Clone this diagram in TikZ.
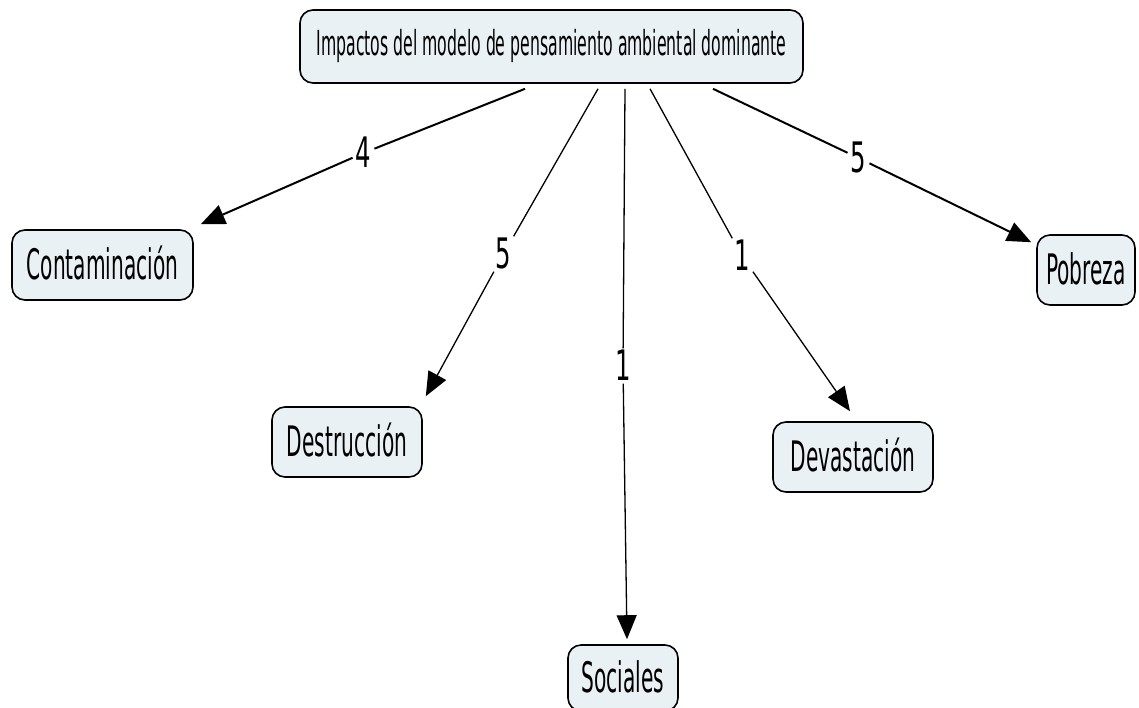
\documentclass[tikz,border=0pt]{standalone}
\usepackage{fontspec}
\usetikzlibrary{arrows.meta}
\newfontfamily\cmapfont[FakeStretch=0.48]{DejaVu Sans}
\newfontfamily\cmaptopfont[FakeStretch=0.455]{DejaVu Sans}
\newfontfamily\cmaplabelfont[FakeStretch=0.58]{DejaVu Sans}
\definecolor{boxfill}{HTML}{EAF1F5}
\begin{document}
\begin{tikzpicture}[x=1pt,y=-1pt,
  concept/.style={draw=black, line width=1.6pt, fill=boxfill, rounded corners=13pt,
    inner sep=0pt, font=\cmapfont\fontsize{42}{44}\selectfont, text height=29pt, text depth=0pt},
  topconcept/.style={concept, font=\cmaptopfont\fontsize{34.5}{36}\selectfont, text height=24pt, text depth=7pt},
  linklabel/.style={fill=white, inner sep=3pt, font=\cmaplabelfont\fontsize{42}{44}\selectfont, text height=29pt, text depth=0pt},
  link/.style={line width=1.3pt, black},
  shallowlink/.style={line width=2pt, black},
  linkarrow/.style={-{Triangle[length=24pt,width=20pt]}}
]
\useasboundingbox (0,0) rectangle (1139,707);
\fill[white] (0,0) rectangle (1139,707);

\node[topconcept, minimum width=503pt, minimum height=73pt] (top) at (551.5,46.5) {Impactos del modelo de pensamiento ambiental dominante};
\node[concept, minimum width=181pt, minimum height=70pt] (cont) at (102.5,265) {Contaminación};
\node[concept, minimum width=150pt, minimum height=70pt] (dest) at (347,442) {Destrucción};
\node[concept, minimum width=110pt, minimum height=66pt] (soc) at (623,678) {Sociales};
\node[concept, minimum width=160pt, minimum height=70pt] (dev) at (853,457) {Devastación};
\node[concept, minimum width=98pt, minimum height=70pt] (pob) at (1086,270) {Pobreza};

\node[linklabel] (l1) at (363.5,153) {4};
\node[linklabel] (l2) at (503.5,254) {5};
\node[linklabel] (l3) at (623,366) {1};
\node[linklabel] (l4) at (742,256) {1};
\node[linklabel] (l5) at (858.5,158) {5};

\draw[shallowlink] ([xshift=-26.5pt,yshift=-5pt]top.south) -- (l1);
\draw[shallowlink, linkarrow] (l1) -- ([xshift=7pt,yshift=5pt]cont.north east);
\draw[link] ([xshift=46.5pt,yshift=-5pt]top.south) -- (l2);
\draw[link, linkarrow] (l2) -- ([xshift=3pt,yshift=10pt]dest.north east);
\draw[link] ([xshift=73.5pt,yshift=-5pt]top.south) -- (l3);
\draw[link, linkarrow] (l3) -- ([xshift=4pt,yshift=5pt]soc.north);
\draw[link] ([xshift=98.5pt,yshift=-5pt]top.south) -- (l4);
\draw[link, linkarrow] (l4) -- ([xshift=-3pt,yshift=10pt]dev.north);
\draw[shallowlink] ([xshift=161.5pt,yshift=-5pt]top.south) -- (l5);
\draw[shallowlink, linkarrow] (l5) -- ([xshift=-5pt,yshift=-8pt]pob.north west);
\end{tikzpicture}
\end{document}
